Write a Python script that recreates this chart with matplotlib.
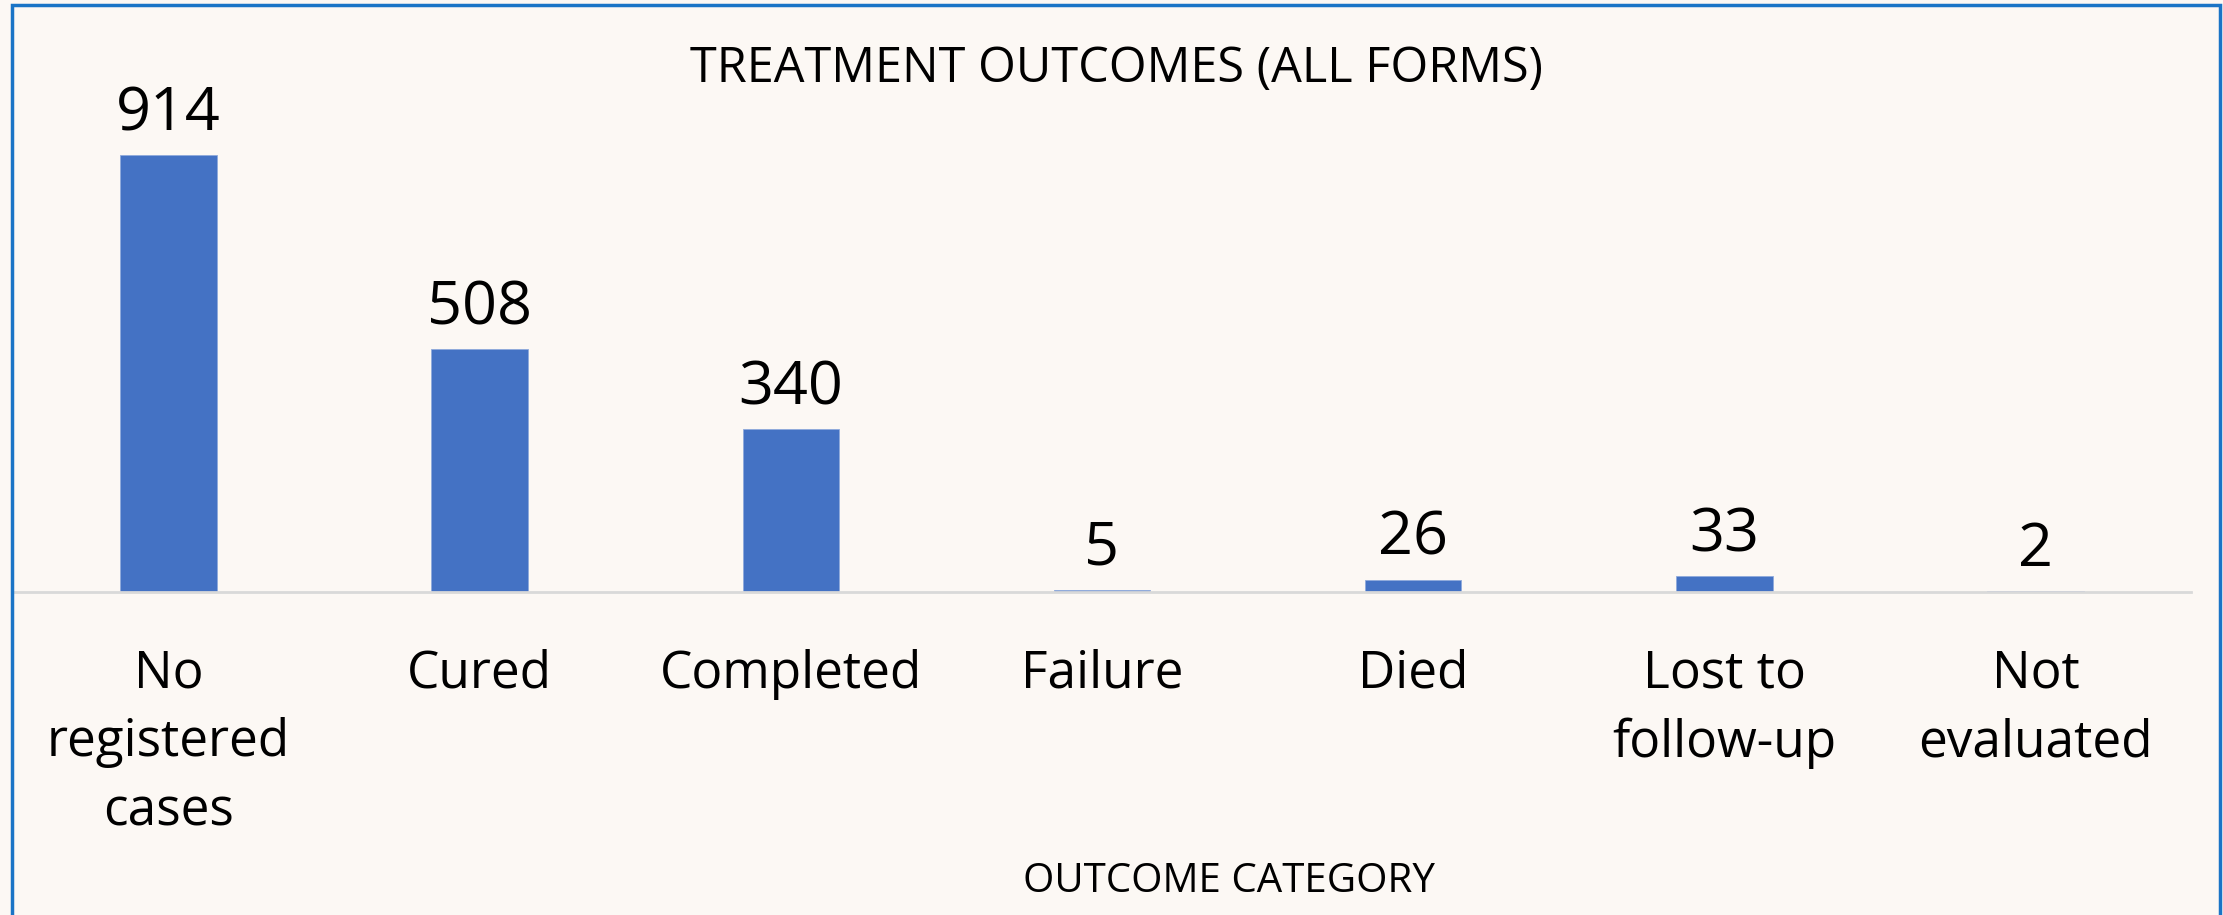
import matplotlib.pyplot as plt
from matplotlib.patches import Rectangle

categories = ["No\nregistered\ncases", "Cured", "Completed", "Failure",
              "Died", "Lost to\nfollow-up", "Not\nevaluated"]
counts = [914, 508, 340, 5, 26, 33, 2]

bg = '#FCF8F4'
bar_color = '#4472C4'
font = 'Open Sans'

fig = plt.figure(figsize=(22.23, 9.15), dpi=100, facecolor=bg)
ax = fig.add_axes([13/2223, 1 - 592/915, (2191 - 13)/2223, 478/915])
ax.set_facecolor(bg)

x = range(len(categories))
ax.bar(x, counts, width=0.31, color=bar_color, edgecolor='#8FAADC', linewidth=0.6, zorder=2)

for i, v in enumerate(counts):
    ax.annotate(str(v), (i, v), xytext=(0, 18), textcoords='offset points',
                ha='center', va='baseline', fontsize=44, family=font)

ax.set_xlim(-0.5, len(categories) - 0.5)
ax.set_ylim(0, 1000)
ax.set_yticks([])
ax.set_xticks(list(x))
ax.set_xticklabels(categories, fontsize=37, family=font, linespacing=1.45)
ax.tick_params(axis='x', length=0, pad=41)

for s in ['top', 'right', 'left']:
    ax.spines[s].set_visible(False)
ax.spines['bottom'].set_color('#D9D9D9')
ax.spines['bottom'].set_linewidth(2)

fig.text(1117/2223, 1 - 82/915, "TREATMENT OUTCOMES (ALL FORMS)", ha='center',
         va='baseline', fontsize=35, family=font)
fig.text(1229/2223, 1 - 892/915, "OUTCOME CATEGORY", ha='center',
         va='baseline', fontsize=29, family=font)

# outer chart border
fig.patches.append(Rectangle((12/2223, -0.05), (2220 - 12)/2223, 1.05 - 5/915,
                             transform=fig.transFigure, fill=False,
                             edgecolor='#1A74C6', linewidth=2.5))

fig.savefig('out.png', dpi=100, facecolor=bg)
